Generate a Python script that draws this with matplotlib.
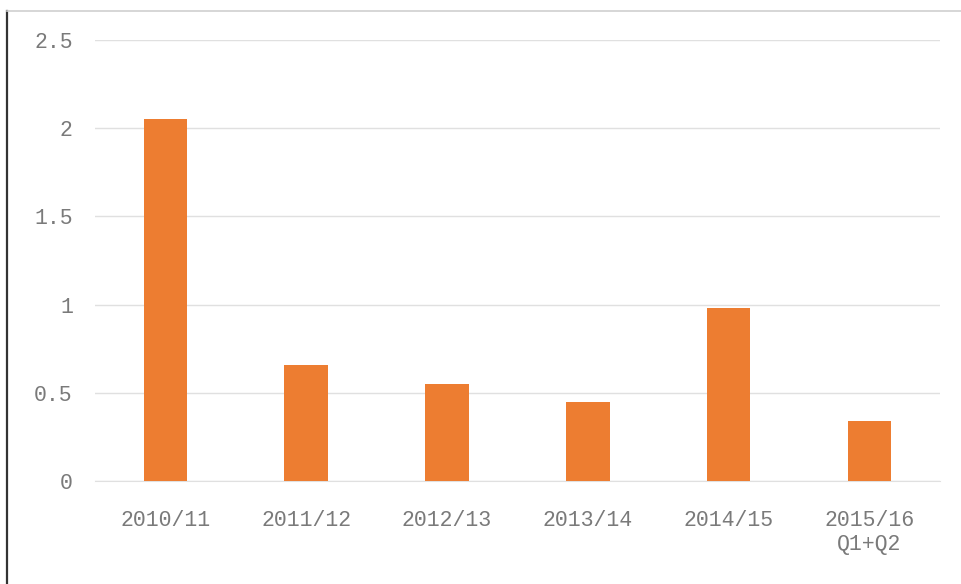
import matplotlib
matplotlib.use('Agg')
import matplotlib.pyplot as plt
from matplotlib.lines import Line2D

years = ['2010/11', '2011/12', '2012/13', '2013/14', '2014/15', '2015/16\nQ1+Q2']
values = [2.05, 0.66, 0.55, 0.45, 0.98, 0.34]
y_ticks = [0, 0.5, 1, 1.5, 2, 2.5]
y_labels = ['0', '0.5', '1', '1.5', '2', '2.5']

BAR_COLOR = '#ED7D31'
GRID_COLOR = '#E0E0E0'
TEXT_COLOR = '#7A7A7A'

plt.rcParams['font.family'] = ['Liberation Mono', 'DejaVu Sans Mono']

fig = plt.figure(figsize=(9.62, 5.84), dpi=100)
ax = fig.add_axes([0.0988, 0.1764, 0.8782, 0.7551])

x = range(len(years))
ax.bar(x, values, width=0.31, color=BAR_COLOR, zorder=3)

ax.set_xlim(-0.5, len(years) - 0.5)
ax.set_ylim(0, 2.5)
ax.set_yticks(y_ticks)
ax.set_yticklabels(y_labels)
ax.set_xticks(list(x))
ax.set_xticklabels(years, linespacing=1.2)

ax.grid(axis='y', color=GRID_COLOR, linewidth=1, zorder=0)
ax.tick_params(axis='both', length=0, labelsize=15.5, colors=TEXT_COLOR)
ax.tick_params(axis='y', pad=16)
ax.tick_params(axis='x', pad=21)
for side in ['top', 'right', 'left']:
    ax.spines[side].set_visible(False)
ax.spines['bottom'].set_color(GRID_COLOR)

# frame around the chart: dark left edge, faint top edge
fig.add_artist(Line2D([0.0075, 0.0075], [0.0, 0.981], color='#333333', linewidth=1.6))
fig.add_artist(Line2D([0.0075, 1.0], [0.981, 0.981], color='#CFCFCF', linewidth=1.2))

fig.savefig('out.png', dpi=100, facecolor='white')
